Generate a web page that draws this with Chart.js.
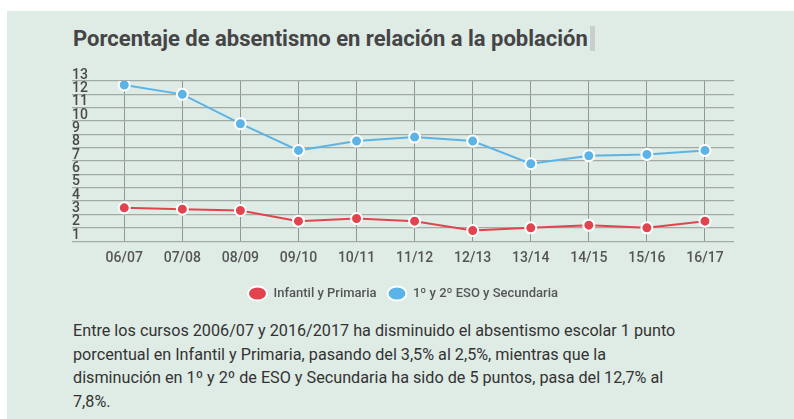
<!DOCTYPE html>
<html>
<head>
<meta charset="utf-8">
<script src="https://cdn.jsdelivr.net/npm/chart.js@4"></script>
<style>
  html, body { margin: 0; padding: 0; width: 794px; height: 419px; background: #ffffff; overflow: hidden; }
  #panel { position: absolute; left: 7px; top: 11px; width: 787px; height: 408px; background: #dfebe5; }
  #title { position: absolute; left: 73px; top: 25px; font-family: Roboto, sans-serif; font-weight: 700; font-size: 22px; color: #454545; white-space: nowrap; line-height: 28px; }
  #title span.cursor { display: inline-block; width: 5px; height: 25px; background: #c9cfcb; vertical-align: -5px; margin-left: 2px; }
  #wrap { position: absolute; left: 0; top: 0; width: 794px; height: 310px; }
  #para { position: absolute; left: 73px; top: 319px; font-family: Roboto, sans-serif; font-size: 16.2px; color: #333333; line-height: 23.7px; white-space: nowrap; }
</style>
</head>
<body>
<div id="panel"></div>
<div id="title">Porcentaje de absentismo en relación a la población<span class="cursor"></span></div>
<div id="wrap"><canvas id="c"></canvas></div>
<div id="para">Entre los cursos 2006/07 y 2016/2017 ha disminuido el absentismo escolar 1 punto<br>porcentual en Infantil y Primaria, pasando del 3,5% al 2,5%, mientras que la<br>disminución en 1º y 2º de ESO y Secundaria ha sido de 5 puntos, pasa del 12,7% al<br>7,8%.</div>
<script>
const categories = ["06/07","07/08","08/09","09/10","10/11","11/12","12/13","13/14","14/15","15/16","16/17"];
const infantilPrimaria = [3.5, 3.4, 3.3, 2.5, 2.7, 2.5, 1.8, 2.0, 2.2, 2.0, 2.5];
const esoSecundaria = [12.7, 12.0, 9.8, 7.8, 8.5, 8.8, 8.5, 6.8, 7.4, 7.5, 7.8];
const yTicks = [1,2,3,4,5,6,7,8,9,10,11,12,13];
const seriesNames = ["Infantil y Primaria", "1º y 2º ESO y Secundaria"];

const toPoints = arr => arr.map((v, i) => ({x: i, y: v}));
const RED = '#e2444f', BLUE = '#5cb4e6';

new Chart(document.getElementById('c'), {
  type: 'line',
  data: {
    datasets: [
      { label: seriesNames[0], data: toPoints(infantilPrimaria), borderColor: RED, backgroundColor: RED,
        borderWidth: 2, pointRadius: 5.5, pointHoverRadius: 5.5, pointBorderColor: '#ffffff', pointBorderWidth: 2,
        pointBackgroundColor: RED, tension: 0 },
      { label: seriesNames[1], data: toPoints(esoSecundaria), borderColor: BLUE, backgroundColor: BLUE,
        borderWidth: 2, pointRadius: 5.5, pointHoverRadius: 5.5, pointBorderColor: '#ffffff', pointBorderWidth: 2,
        pointBackgroundColor: BLUE, tension: 0 }
    ]
  },
  options: {
    responsive: true,
    maintainAspectRatio: false,
    animation: false,
    events: [],
    layout: { padding: { left: 72, right: 60, top: 81, bottom: 0 } },
    scales: {
      x: {
        type: 'linear',
        min: -0.9, max: 10.5,
        border: { display: false },
        grid: { color: '#8e9791', lineWidth: 1, drawTicks: false },
        ticks: {
          stepSize: 1, includeBounds: false, autoSkip: false, padding: 9,
          color: '#555555', font: { family: 'Roboto', size: 14, weight: '500' },
          callback: v => (Number.isInteger(v) && categories[v] !== undefined) ? categories[v] : ''
        }
      },
      y: {
        min: 1, max: 13,
        border: { display: false },
        grid: { color: '#a2aaa5', lineWidth: 1.3, drawTicks: false },
        afterBuildTicks: axis => { axis.ticks = yTicks.map(v => ({value: v})); },
        ticks: {
          mirror: true, padding: 0, labelOffset: -6, autoSkip: false,
          color: '#4a4a4a', font: { family: 'Roboto', size: 14, weight: '500' }
        }
      }
    },
    plugins: {
      tooltip: { enabled: false },
      legend: {
        position: 'bottom',
        labels: {
          usePointStyle: true, pointStyle: 'circle', pointStyleWidth: 19, boxHeight: 10,
          padding: 11, color: '#555555', font: { family: 'Roboto', size: 13, weight: '500' }
        }
      }
    }
  }
});
</script>
</body>
</html>
